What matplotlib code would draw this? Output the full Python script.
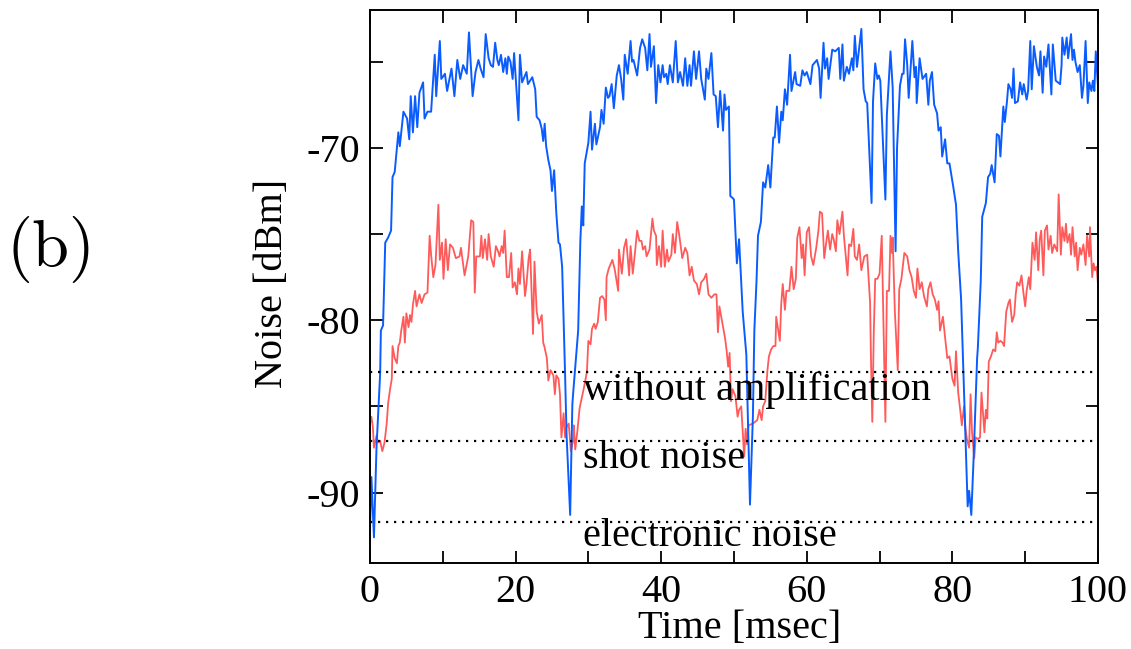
import matplotlib
matplotlib.use('Agg')
import matplotlib.pyplot as plt
from matplotlib.ticker import MultipleLocator

plt.rcParams['font.family'] = ['Liberation Serif', 'DejaVu Serif']
plt.rcParams['mathtext.fontset'] = 'cm'

# amplified noise trace (blue): time [msec], noise [dBm]
blue_time = [
    0.0, 0.2, 0.55, 0.9, 1.4, 1.5, 1.8, 2.0, 2.1, 2.5,
    2.9, 3.1, 3.4, 3.9, 4.1, 4.6, 5.1, 5.4, 5.6, 5.9,
    6.2, 6.5, 6.8, 7.3, 7.5, 7.9, 8.4, 8.9, 9.1, 9.6,
    9.8, 10.3, 10.6, 11.2, 11.6, 12.0, 12.4, 12.8, 13.3, 13.6,
    14.1, 14.5, 14.9, 15.2, 15.6, 15.9, 16.3, 16.6, 16.9, 17.2,
    17.5, 17.7, 18.0, 18.3, 18.6, 18.8, 19.0, 19.3, 19.6, 19.8,
    20.4, 20.6, 20.9, 21.5, 21.7, 22.3, 22.7, 22.9, 23.3, 23.6,
    23.8, 24.0, 24.2, 24.5, 24.8, 25.0, 25.3, 25.6, 25.9, 26.1,
    26.4, 26.8, 27.0, 27.5, 27.8, 27.9, 28.6, 28.7, 28.9, 29.1,
    29.3, 29.5, 30.0, 30.3, 30.5, 30.9, 31.1, 31.6, 31.8, 32.1,
    32.4, 32.7, 32.9, 33.2, 33.5, 33.9, 34.2, 34.5, 34.8, 35.0,
    35.4, 35.8, 36.0, 36.2, 36.7, 37.1, 37.4, 37.8, 38.1, 38.4,
    38.6, 39.0, 39.3, 39.6, 39.9, 40.2, 40.4, 40.7, 40.9, 41.2,
    41.6, 42.0, 42.3, 42.6, 43.0, 43.3, 43.6, 43.9, 44.1, 44.5,
    44.8, 45.2, 45.5, 46.0, 46.2, 46.5, 46.9, 47.2, 47.5, 47.8,
    48.1, 48.5, 48.7, 48.9, 49.3, 49.5, 49.8, 50.0, 50.4, 50.7,
    51.2, 51.7, 52.2, 52.6, 52.8, 53.1, 53.3, 53.7, 54.0, 54.3,
    54.7, 55.0, 55.4, 55.6, 55.9, 56.2, 56.5, 56.7, 57.0, 57.3,
    57.7, 57.9, 58.4, 58.6, 59.1, 59.4, 59.7, 60.0, 60.5, 60.8,
    61.4, 61.7, 61.9, 62.3, 62.5, 62.8, 63.0, 63.5, 63.9, 64.4,
    64.6, 64.9, 65.1, 65.5, 65.8, 66.2, 66.4, 66.6, 66.9, 67.5,
    67.8, 68.1, 68.3, 68.9, 69.1, 69.4, 69.7, 69.9, 70.1, 70.8,
    71.0, 71.5, 71.8, 72.2, 72.4, 72.8, 73.1, 73.3, 73.5, 73.8,
    74.0, 74.5, 74.8, 75.0, 75.1, 75.5, 75.9, 76.4, 76.7, 76.9,
    77.2, 77.5, 77.9, 78.1, 78.4, 78.6, 79.0, 79.3, 79.6, 80.1,
    80.5, 80.8, 81.2, 81.7, 82.1, 82.3, 82.6, 82.9, 83.4, 83.5,
    83.9, 84.1, 84.6, 84.9, 85.2, 85.4, 85.8, 86.1, 86.4, 86.6,
    87.0, 87.2, 87.5, 87.7, 88.0, 88.2, 88.4, 88.6, 89.0, 89.3,
    89.6, 89.8, 90.2, 90.4, 90.7, 90.9, 91.2, 91.6, 91.9, 92.1,
    92.4, 92.6, 92.9, 93.2, 93.6, 93.8, 94.2, 94.5, 94.8, 95.0,
    95.1, 95.4, 95.7, 95.9, 96.3, 96.5, 96.7, 96.9, 97.2, 97.5,
    97.8, 98.0, 98.3, 98.6, 98.8, 99.1, 99.3, 99.5, 99.7, 100.0,
]
blue_noise = [
    -92.2, -89.1, -92.6, -87.4, -83.1, -80.6, -80.3, -77.0, -75.5, -75.2,
    -74.8, -71.7, -71.4, -69.1, -69.9, -67.9, -68.3, -69.5, -67.0, -69.1,
    -67.0, -68.8, -66.8, -66.2, -68.3, -67.9, -67.9, -64.6, -67.0, -63.8,
    -66.0, -65.7, -66.7, -65.4, -67.0, -64.9, -66.0, -65.2, -65.7, -63.3,
    -67.0, -65.6, -64.9, -65.4, -65.9, -63.4, -64.8, -65.2, -65.3, -63.9,
    -64.9, -65.2, -64.6, -65.6, -64.8, -65.7, -64.7, -65.0, -66.0, -64.5,
    -68.4, -64.6, -66.2, -65.6, -66.3, -65.9, -66.6, -68.2, -68.4, -68.9,
    -69.6, -68.6, -69.9, -70.7, -71.3, -72.5, -71.3, -73.8, -75.5, -75.6,
    -76.9, -83.1, -86.6, -91.3, -84.9, -84.3, -80.6, -78.8, -75.4, -73.4,
    -74.5, -70.9, -69.7, -67.9, -70.1, -68.6, -69.8, -68.8, -67.8, -68.6,
    -66.5, -67.1, -67.0, -66.3, -67.7, -65.8, -65.2, -66.0, -67.2, -64.6,
    -65.7, -63.8, -65.0, -64.9, -65.8, -64.2, -63.7, -64.2, -65.5, -63.4,
    -65.3, -64.1, -67.4, -65.2, -66.2, -65.2, -65.9, -65.7, -66.3, -65.2,
    -66.2, -63.8, -66.2, -65.6, -66.4, -64.8, -66.4, -65.2, -66.4, -64.4,
    -66.0, -64.4, -66.0, -67.2, -65.4, -66.0, -64.5, -66.9, -67.0, -68.8,
    -66.7, -69.0, -66.9, -67.8, -67.6, -72.8, -72.9, -73.0, -76.7, -75.3,
    -79.5, -82.0, -90.7, -85.6, -80.6, -77.7, -75.1, -74.3, -72.0, -72.3,
    -71.0, -72.3, -69.4, -69.4, -67.6, -69.7, -67.9, -68.4, -66.6, -67.5,
    -64.6, -66.7, -65.6, -66.3, -66.4, -65.5, -65.8, -65.6, -66.3, -65.2,
    -64.9, -65.4, -67.1, -63.9, -65.4, -64.8, -66.0, -64.3, -64.4, -64.2,
    -66.0, -64.0, -66.1, -65.3, -65.7, -64.8, -65.5, -63.5, -65.3, -63.1,
    -66.6, -67.3, -67.4, -73.2, -67.3, -65.1, -66.0, -65.8, -66.1, -73.0,
    -68.1, -64.4, -66.5, -76.0, -70.0, -66.4, -65.7, -65.7, -63.7, -65.2,
    -67.1, -63.8, -65.9, -65.3, -67.4, -64.8, -66.0, -65.7, -67.5, -66.1,
    -65.6, -67.5, -68.0, -69.0, -68.8, -70.5, -69.5, -70.9, -70.9, -72.2,
    -73.3, -76.0, -78.8, -85.5, -90.8, -89.9, -91.3, -88.2, -82.2, -81.6,
    -77.7, -74.0, -73.2, -71.7, -71.5, -71.0, -72.0, -69.2, -69.3, -70.5,
    -67.6, -68.5, -67.3, -66.3, -66.6, -67.1, -65.4, -67.4, -67.3, -66.2,
    -66.9, -66.3, -67.2, -66.7, -63.8, -66.6, -64.1, -65.3, -65.8, -64.4,
    -66.8, -64.7, -65.3, -64.0, -66.9, -64.0, -66.1, -66.2, -66.3, -65.2,
    -63.6, -64.6, -63.6, -64.8, -63.4, -64.9, -64.3, -65.0, -65.6, -65.2,
    -67.1, -66.4, -63.8, -67.4, -66.2, -66.7, -66.1, -66.7, -64.4, -66.4,
]

# second noise trace (red)
red_time = [
    0.0, 0.2, 0.4, 0.55, 0.9, 1.1, 1.4, 1.7, 2.0, 2.3,
    2.5, 2.8, 3.0, 3.1, 3.4, 3.7, 3.9, 4.1, 4.3, 4.6,
    4.8, 5.0, 5.3, 5.5, 5.7, 5.9, 6.2, 6.4, 6.8, 7.1,
    7.5, 7.9, 8.2, 8.4, 8.7, 9.0, 9.4, 9.6, 9.9, 10.1,
    10.4, 10.7, 11.0, 11.4, 11.8, 12.3, 12.5, 13.0, 13.5, 13.9,
    14.2, 14.4, 14.6, 15.1, 15.3, 15.5, 15.8, 16.1, 16.3, 16.6,
    17.0, 17.3, 17.6, 17.8, 18.1, 18.3, 18.5, 18.8, 19.1, 19.4,
    19.6, 19.9, 20.2, 20.4, 20.6, 20.9, 21.3, 21.5, 21.8, 22.0,
    22.4, 22.6, 22.9, 23.2, 23.6, 23.8, 24.0, 24.3, 24.5, 24.8,
    25.2, 25.4, 25.6, 25.9, 26.1, 26.3, 26.6, 26.8, 27.0, 27.3,
    27.6, 27.9, 28.0, 28.2, 28.5, 28.8, 29.4, 29.8, 30.0, 30.3,
    30.5, 30.8, 31.0, 31.3, 31.6, 31.9, 32.2, 32.4, 32.5, 32.8,
    33.3, 33.6, 34.1, 34.2, 34.6, 34.9, 35.2, 35.6, 35.8, 36.1,
    36.4, 36.7, 37.0, 37.3, 37.5, 37.8, 38.0, 38.4, 38.8, 39.0,
    39.3, 39.4, 39.7, 40.0, 40.2, 40.5, 40.8, 41.0, 41.4, 41.6,
    41.9, 42.2, 42.5, 42.9, 43.3, 43.6, 43.9, 44.2, 44.5, 44.9,
    45.2, 45.5, 45.9, 46.2, 46.5, 46.9, 47.3, 47.6, 47.8, 48.0,
    48.5, 48.8, 49.0, 49.2, 49.4, 49.6, 49.8, 50.2, 50.5, 50.7,
    51.0, 51.4, 51.6, 51.8, 52.0, 52.6, 52.9, 53.2, 53.5, 53.8,
    54.0, 54.3, 54.6, 54.8, 55.1, 55.4, 55.7, 55.8, 56.3, 56.5,
    56.7, 57.0, 57.2, 57.6, 57.9, 58.2, 58.5, 58.7, 59.0, 59.3,
    59.5, 59.7, 60.0, 60.3, 60.6, 60.9, 61.3, 61.6, 61.8, 62.1,
    62.4, 62.7, 62.9, 63.2, 63.5, 63.7, 64.0, 64.2, 64.5, 64.9,
    65.1, 65.6, 65.8, 66.1, 66.4, 66.6, 66.9, 67.2, 67.5, 67.9,
    68.3, 68.7, 68.8, 69.0, 69.2, 69.4, 69.7, 70.0, 70.3, 70.5,
    70.8, 71.0, 71.3, 71.5, 71.7, 71.8, 72.1, 72.5, 72.7, 73.0,
    73.4, 73.8, 74.1, 74.4, 74.7, 75.0, 75.2, 75.5, 75.8, 76.1,
    76.5, 76.7, 77.0, 77.3, 77.6, 77.9, 78.1, 78.3, 78.7, 79.0,
    79.3, 79.6, 80.0, 80.3, 80.5, 80.8, 81.1, 81.3, 81.6, 81.8,
    82.0, 82.3, 82.5, 82.7, 83.0, 83.2, 83.5, 83.8, 84.0, 84.4,
    84.6, 84.8, 85.0, 85.3, 85.6, 85.9, 86.1, 86.3, 86.6, 86.9,
    87.1, 87.4, 87.7, 87.9, 88.2, 88.5, 88.7, 88.9, 89.2, 89.5,
    89.7, 90.0, 90.2, 90.5, 90.7, 91.0, 91.3, 91.5, 91.8, 92.0,
    92.2, 92.5, 92.7, 93.0, 93.2, 93.5, 93.7, 94.0, 94.2, 94.4,
    94.6, 94.9, 95.1, 95.4, 95.6, 95.8, 96.1, 96.3, 96.5, 96.8,
    97.0, 97.2, 97.5, 97.7, 98.0, 98.3, 98.5, 98.8, 98.9, 99.2,
    99.4, 99.6, 99.8, 100.0,
]
red_noise = [
    -86.0, -85.6, -86.2, -87.4, -86.7, -87.1, -87.0, -87.6, -87.1, -86.0,
    -84.8, -83.9, -83.4, -81.5, -82.2, -82.5, -81.5, -81.3, -80.6, -79.8,
    -81.3, -79.6, -80.4, -79.7, -80.1, -79.1, -78.3, -79.2, -78.5, -79.0,
    -78.5, -78.4, -75.1, -76.2, -77.5, -76.8, -73.3, -76.5, -75.5, -77.6,
    -75.3, -77.1, -75.6, -75.8, -76.4, -76.3, -75.8, -77.4, -76.3, -74.2,
    -74.3, -78.4, -76.3, -76.3, -75.1, -76.4, -75.3, -76.5, -75.0, -76.3,
    -76.9, -75.7, -76.0, -76.3, -75.7, -76.1, -74.8, -77.5, -77.5, -76.1,
    -78.1, -77.8, -78.5, -77.0, -77.9, -76.0, -78.6, -77.9, -76.4, -75.9,
    -80.8, -76.6, -79.5, -80.2, -79.7, -81.3, -81.6, -82.2, -83.5, -82.9,
    -83.2, -84.3, -83.2, -83.4, -84.3, -86.8, -85.4, -86.8, -86.2, -86.0,
    -87.6, -87.0, -86.1, -87.5, -86.4, -85.1, -83.9, -83.0, -81.2, -81.4,
    -80.5, -80.2, -80.5, -80.1, -78.7, -78.6, -78.8, -80.0, -77.5, -77.0,
    -76.5, -77.0, -78.3, -75.9, -77.3, -75.8, -75.3, -77.4, -75.7, -77.3,
    -76.1, -74.8, -75.4, -75.4, -75.9, -75.7, -76.3, -75.9, -74.1, -74.8,
    -75.1, -76.8, -75.7, -76.9, -74.8, -76.9, -75.9, -76.6, -76.2, -75.0,
    -76.1, -74.3, -75.1, -76.4, -75.8, -76.1, -77.4, -76.9, -77.7, -77.9,
    -78.5, -77.8, -77.6, -77.3, -78.5, -78.7, -78.5, -78.5, -80.7, -79.2,
    -80.4, -81.1, -81.8, -82.7, -81.9, -84.7, -84.0, -84.4, -85.6, -85.2,
    -85.0, -87.9, -86.3, -87.2, -86.1, -86.0, -85.9, -85.8, -85.2, -85.8,
    -85.0, -84.7, -82.9, -82.1, -81.7, -81.5, -81.5, -79.8, -81.2, -79.0,
    -77.9, -79.4, -78.3, -78.3, -76.9, -78.2, -77.6, -75.2, -74.6, -76.4,
    -75.6, -77.4, -74.9, -74.6, -76.3, -76.8, -75.8, -74.8, -73.7, -73.8,
    -76.4, -75.4, -74.8, -75.9, -75.0, -75.3, -76.0, -74.2, -75.0, -73.7,
    -75.1, -77.4, -75.6, -75.7, -74.7, -76.3, -76.5, -75.6, -77.1, -76.3,
    -76.2, -79.0, -81.8, -85.9, -80.8, -77.6, -77.6, -77.3, -75.1, -79.5,
    -85.9, -78.3, -78.3, -75.1, -76.1, -75.2, -79.5, -82.9, -78.2, -77.6,
    -76.1, -76.3, -77.1, -77.5, -78.3, -78.7, -77.0, -78.2, -77.8, -78.6,
    -79.2, -78.2, -77.8, -78.5, -78.8, -79.4, -78.9, -80.6, -79.8, -81.0,
    -82.2, -82.1, -83.4, -83.8, -81.8, -84.2, -85.3, -86.1, -85.0, -86.3,
    -86.9, -87.4, -84.3, -86.5, -88.0, -86.8, -86.9, -86.8, -84.2, -86.5,
    -85.2, -85.7, -82.4, -82.1, -81.7, -81.8, -80.7, -81.3, -81.2, -81.3,
    -81.5, -79.5, -79.0, -78.8, -80.1, -79.7, -78.5, -77.8, -78.0, -77.4,
    -78.2, -79.2, -78.3, -77.5, -78.2, -75.5, -76.5, -74.9, -77.1, -75.3,
    -74.8, -77.4, -74.8, -74.5, -75.9, -75.1, -76.1, -75.6, -75.8, -76.0,
    -72.7, -76.2, -74.6, -75.4, -74.4, -75.5, -75.0, -76.2, -74.6, -76.3,
    -75.5, -77.1, -75.8, -76.2, -75.6, -76.8, -75.1, -76.3, -74.6, -77.5,
    -76.7, -77.1, -76.9, -77.9,
]

# reference levels (dotted) and their labels
ref_levels = [-83.0, -87.0, -91.7]
ref_labels = ['without amplification', 'shot noise', 'electronic noise']
ref_label_y = [-84.65, -88.6, -93.1]

fig = plt.figure(figsize=(11.31, 6.49), dpi=100)
ax = fig.add_axes([0.3271, 0.133, 0.6437, 0.8516])

ax.plot(red_time, red_noise, color='#ff5a5a', lw=1.3)
ax.plot(blue_time, blue_noise, color='#0a5cff', lw=1.4)

for level, label, ly in zip(ref_levels, ref_labels, ref_label_y):
    ax.axhline(level, color='black', lw=1.6, linestyle=(0, (1, 2.6)))
    ax.text(29.3, ly, label, fontsize=29, va='baseline', ha='left')

ax.set_xlim(0, 100)
ax.set_ylim(-94.07, -62.0)

ax.xaxis.set_major_locator(MultipleLocator(20))
ax.xaxis.set_minor_locator(MultipleLocator(10))
ax.yaxis.set_major_locator(MultipleLocator(10))
ax.yaxis.set_minor_locator(MultipleLocator(5))
ax.tick_params(which='both', direction='in', top=True, right=True,
               length=9, width=1.3, labelsize=29)
ax.tick_params(axis='x', pad=8)
ax.tick_params(axis='y', pad=7)
ax.set_yticks([-90, -80, -70])
ax.set_yticklabels(['-90', '-80', '-70'])
for s in ax.spines.values():
    s.set_linewidth(1.4)

fig.text(0.2405, 0.564, 'Noise [dBm]', fontsize=29, rotation=90,
         ha='center', va='center')
fig.text(0.654, 0.032, 'Time [msec]', fontsize=29, ha='center', va='center')
fig.text(0.0424, 0.615, r'$(\mathrm{b})$', fontsize=48, ha='center', va='center')

fig.savefig('out.png', dpi=100)
